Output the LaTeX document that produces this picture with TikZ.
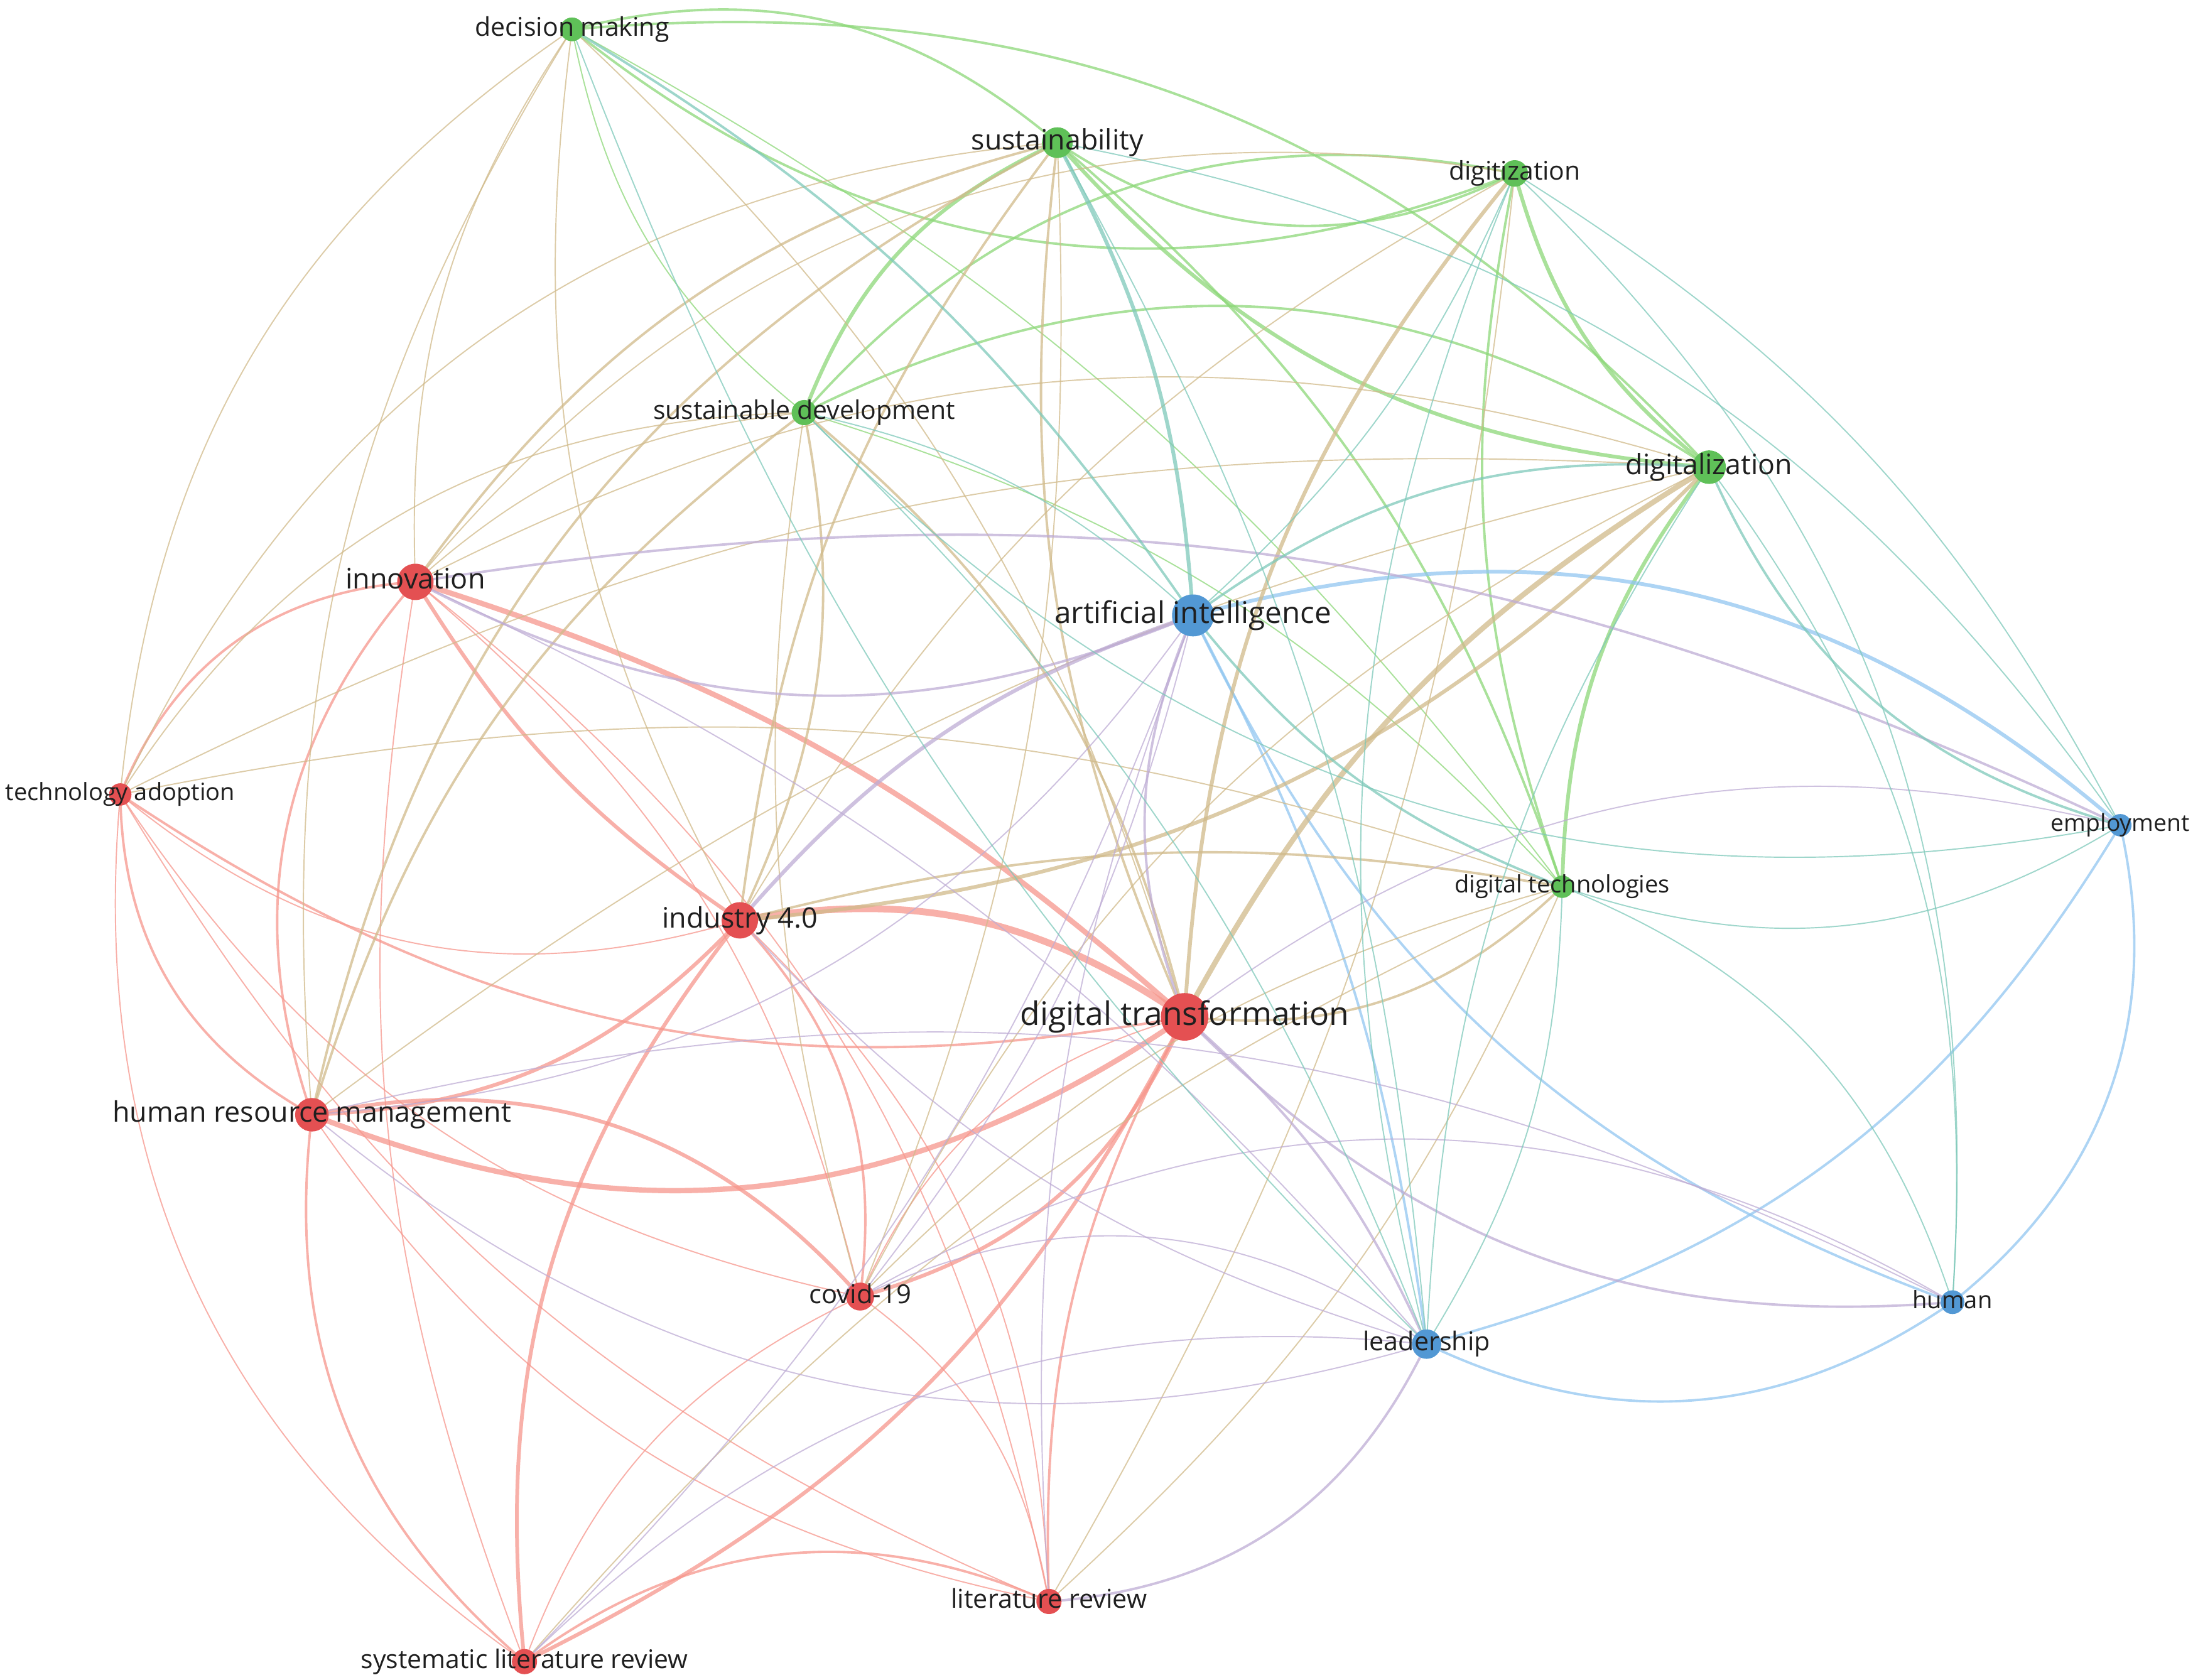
\documentclass[tikz,border=0pt]{standalone}
\usepackage{fontspec}
\setmainfont{Open Sans}
\usepackage{graphicx}
\pgfdeclarelayer{bg}
\pgfsetlayers{bg,main}
\newdimen\ux \ux=0.02227cm
\definecolor{nR}{RGB}{228,80,82}
\definecolor{nG}{RGB}{95,192,88}
\definecolor{nB}{RGB}{82,152,212}
\definecolor{cRR}{RGB}{246,150,140}
\definecolor{cGG}{RGB}{140,215,120}
\definecolor{cBB}{RGB}{145,198,240}
\definecolor{cRG}{RGB}{208,186,138}
\definecolor{cRB}{RGB}{190,172,212}
\definecolor{cGB}{RGB}{125,200,185}
\tikzset{
  dotR/.style={circle,fill=nR,draw=none,inner sep=0pt,minimum size=#1\ux},
  dotG/.style={circle,fill=nG,draw=none,inner sep=0pt,minimum size=#1\ux},
  dotB/.style={circle,fill=nB,draw=none,inner sep=0pt,minimum size=#1\ux},
  lab/.style={inner sep=0pt,text=black!88},
  eRR/.style={draw=cRR,draw opacity=0.75,line cap=round},
  eGG/.style={draw=cGG,draw opacity=0.75,line cap=round},
  eBB/.style={draw=cBB,draw opacity=0.75,line cap=round},
  eRG/.style={draw=cRG,draw opacity=0.75,line cap=round},
  eRB/.style={draw=cRB,draw opacity=0.75,line cap=round},
  eGB/.style={draw=cGB,draw opacity=0.75,line cap=round},
  w1/.style={line width=0.55pt},
  w2/.style={line width=1.1pt},
  w3/.style={line width=1.7pt},
  w4/.style={line width=2.4pt},
  w5/.style={line width=3.1pt}
}
\newcommand\lbl[3]{\node[lab] at (#1) {\resizebox{#2\ux}{!}{\vphantom{Agy}#3}};}
\begin{document}
\begin{tikzpicture}[x=0.02227cm,y=-0.02227cm]
\useasboundingbox (0,0) rectangle (1568,1201);
% nodes
\node[dotG=17] (dm) at (409,21) {};
\node[dotG=22] (su) at (756,102) {};
\node[dotG=19] (dz) at (1083,124) {};
\node[dotG=18] (sd) at (575,295) {};
\node[dotG=24] (dl) at (1222,334) {};
\node[dotR=26] (inn) at (297,416) {};
\node[dotB=30] (ai) at (853,440) {};
\node[dotR=16] (ta) at (86,568) {};
\node[dotB=16] (em) at (1516,590) {};
\node[dotG=16] (dtc) at (1117,634) {};
\node[dotR=26] (i4) at (529,658) {};
\node[dotR=34] (dt) at (847,727) {};
\node[dotR=24] (hrm) at (223,797) {};
\node[dotR=20] (cv) at (615,927) {};
\node[dotB=17] (hu) at (1396,931) {};
\node[dotB=21] (le) at (1020,961) {};
\node[dotR=18] (lr) at (750,1145) {};
\node[dotR=18] (slr) at (375,1188) {};
% labels
\lbl{dm}{139}{decision making}
\lbl{su}{123}{sustainability}
\lbl{dz}{94}{digitization}
\lbl{sd}{216}{sustainable development}
\lbl{dl}{119}{digitalization}
\lbl{inn}{100}{innovation}
\lbl{ai}{198}{artificial intelligence}
\lbl{ta}{164}{technology adoption}
\lbl{em}{99}{employment}
\lbl{dtc}{154}{digital technologies}
\lbl{i4}{111}{industry 4.0}
\lbl{dt}{235}{digital transformation}
\lbl{hrm}{285}{human resource management}
\lbl{cv}{73}{covid-19}
\lbl{hu}{57}{human}
\lbl{le}{91}{leadership}
\lbl{lr}{140}{literature review}
\lbl{slr}{234}{systematic literature review}
% edges
\begin{pgfonlayer}{bg}
% red-red
\draw[eRR,w5] (i4.center) to[bend left=22] (dt.center);
\draw[eRR,w4] (hrm.center) to[bend right=28] (dt.center);
\draw[eRR,w4] (inn.center) to[bend left=12] (dt.center);
\draw[eRR,w3] (cv.center) to[bend right=25] (dt.center);
\draw[eRR,w3] (slr.center) to[bend right=18] (dt.center);
\draw[eRR,w2] (lr.center) to[bend left=15] (dt.center);
\draw[eRR,w2] (ta.center) to[bend right=22] (dt.center);
\draw[eRR,w3] (inn.center) to[bend right=12] (i4.center);
\draw[eRR,w3] (hrm.center) to[bend right=22] (i4.center);
\draw[eRR,w2] (i4.center) to[bend left=25] (cv.center);
\draw[eRR,w1] (ta.center) to[bend right=28] (i4.center);
\draw[eRR,w3] (slr.center) to[bend left=22] (i4.center);
\draw[eRR,w1] (i4.center) to[bend left=22] (lr.center);
\draw[eRR,w2] (inn.center) to[bend right=30] (hrm.center);
\draw[eRR,w2] (ta.center) to[bend left=32] (inn.center);
\draw[eRR,w1] (inn.center) to[bend left=18] (cv.center);
\draw[eRR,w1] (inn.center) to[bend right=15] (slr.center);
\draw[eRR,w1] (inn.center) to[bend left=20] (lr.center);
\draw[eRR,w3] (hrm.center) to[bend left=30] (cv.center);
\draw[eRR,w2] (hrm.center) to[bend right=28] (slr.center);
\draw[eRR,w1] (hrm.center) to[bend right=22] (lr.center);
\draw[eRR,w2] (ta.center) to[bend right=30] (hrm.center);
\draw[eRR,w1] (cv.center) to[bend right=22] (slr.center);
\draw[eRR,w1] (cv.center) to[bend left=22] (lr.center);
\draw[eRR,w1] (ta.center) to[bend right=22] (cv.center);
\draw[eRR,w2] (slr.center) to[bend left=30] (lr.center);
\draw[eRR,w1] (ta.center) to[bend right=30] (slr.center);
\draw[eRR,w1] (ta.center) to[bend right=18] (lr.center);
\draw[eRR,w1] (cv.center) to[bend left=25] (dt.center);
% green-green
\draw[eGG,w2] (su.center) to[bend right=30] (dz.center);
\draw[eGG,w3] (su.center) to[bend right=22] (dl.center);
\draw[eGG,w3] (sd.center) to[bend left=22] (su.center);
\draw[eGG,w2] (dm.center) to[bend left=27] (su.center);
\draw[eGG,w2] (su.center) to[bend left=15] (dtc.center);
\draw[eGG,w3] (dz.center) to[bend right=18] (dl.center);
\draw[eGG,w2] (sd.center) to[bend left=30] (dz.center);
\draw[eGG,w2] (dz.center) to[bend right=15] (dtc.center);
\draw[eGG,w2] (dm.center) to[bend right=30] (dz.center);
\draw[eGG,w2] (sd.center) to[bend left=30] (dl.center);
\draw[eGG,w2] (dm.center) to[bend left=26] (dl.center);
\draw[eGG,w3] (dl.center) to[bend right=18] (dtc.center);
\draw[eGG,w1] (sd.center) to[bend left=15] (dtc.center);
\draw[eGG,w1] (dm.center) to[bend right=20] (sd.center);
\draw[eGG,w1] (dm.center) to[bend left=12] (dtc.center);
% blue-blue
\draw[eBB,w2] (ai.center) to[bend left=10] (le.center);
\draw[eBB,w2] (ai.center) to[bend right=22] (hu.center);
\draw[eBB,w3] (ai.center) to[bend left=28] (em.center);
\draw[eBB,w2] (le.center) to[bend right=30] (hu.center);
\draw[eBB,w2] (le.center) to[bend right=22] (em.center);
\draw[eBB,w2] (hu.center) to[bend right=32] (em.center);
% red-green
\draw[eRG,w4] (dt.center) to[bend left=15] (dl.center);
\draw[eRG,w3] (dt.center) to[bend left=18] (dz.center);
\draw[eRG,w2] (su.center) to[bend right=15] (dt.center);
\draw[eRG,w2] (dt.center) to[bend right=25] (dtc.center);
\draw[eRG,w2] (sd.center) to[bend left=18] (dt.center);
\draw[eRG,w1] (dm.center) to[bend left=15] (dt.center);
\draw[eRG,w2] (i4.center) to[bend left=15] (su.center);
\draw[eRG,w2] (i4.center) to[bend right=18] (sd.center);
\draw[eRG,w3] (i4.center) to[bend right=20] (dl.center);
\draw[eRG,w1] (i4.center) to[bend left=15] (dz.center);
\draw[eRG,w2] (i4.center) to[bend left=12] (dtc.center);
\draw[eRG,w1] (dm.center) to[bend right=18] (i4.center);
\draw[eRG,w2] (inn.center) to[bend left=20] (su.center);
\draw[eRG,w1] (inn.center) to[bend left=18] (sd.center);
\draw[eRG,w1] (inn.center) to[bend left=30] (dz.center);
\draw[eRG,w1] (dm.center) to[bend right=18] (inn.center);
\draw[eRG,w1] (inn.center) to[bend left=22] (dl.center);
\draw[eRG,w2] (hrm.center) to[bend left=25] (su.center);
\draw[eRG,w2] (hrm.center) to[bend left=18] (sd.center);
\draw[eRG,w1] (hrm.center) to[bend left=12] (dl.center);
\draw[eRG,w1] (hrm.center) to[bend left=18] (dm.center);
\draw[eRG,w1] (cv.center) to[bend left=18] (dl.center);
\draw[eRG,w1] (cv.center) to[bend left=12] (sd.center);
\draw[eRG,w1] (cv.center) to[bend right=12] (su.center);
\draw[eRG,w1] (cv.center) to[bend left=15] (dtc.center);
\draw[eRG,w1] (slr.center) to[bend left=12] (dtc.center);
\draw[eRG,w1] (lr.center) to[bend right=12] (dtc.center);
\draw[eRG,w1] (lr.center) to[bend right=12] (dz.center);
\draw[eRG,w1] (ta.center) to[bend left=30] (su.center);
\draw[eRG,w1] (ta.center) to[bend left=28] (sd.center);
\draw[eRG,w1] (ta.center) to[bend left=25] (dm.center);
\draw[eRG,w1] (ta.center) to[bend left=15] (dtc.center);
\draw[eRG,w1] (ta.center) to[bend left=15] (dl.center);
% red-blue
\draw[eRB,w2] (ai.center) to[bend right=22] (dt.center);
\draw[eRB,w2] (dt.center) to[bend left=12] (le.center);
\draw[eRB,w2] (dt.center) to[bend right=25] (hu.center);
\draw[eRB,w1] (dt.center) to[bend left=25] (em.center);
\draw[eRB,w3] (i4.center) to[bend left=15] (ai.center);
\draw[eRB,w1] (i4.center) to[bend right=15] (le.center);
\draw[eRB,w2] (inn.center) to[bend right=25] (ai.center);
\draw[eRB,w2] (inn.center) to[bend left=17] (em.center);
\draw[eRB,w1] (inn.center) to[bend left=12] (le.center);
\draw[eRB,w1] (hrm.center) to[bend right=25] (ai.center);
\draw[eRB,w1] (hrm.center) to[bend right=28] (le.center);
\draw[eRB,w1] (hrm.center) to[bend left=20] (hu.center);
\draw[eRB,w1] (cv.center) to[bend left=30] (hu.center);
\draw[eRB,w1] (cv.center) to[bend left=30] (le.center);
\draw[eRB,w1] (cv.center) to[bend right=12] (ai.center);
\draw[eRB,w1] (slr.center) to[bend left=25] (le.center);
\draw[eRB,w1] (slr.center) to[bend right=12] (ai.center);
\draw[eRB,w2] (lr.center) to[bend right=30] (le.center);
\draw[eRB,w1] (lr.center) to[bend left=12] (ai.center);
% green-blue
\draw[eGB,w3] (su.center) to[bend left=12] (ai.center);
\draw[eGB,w1] (su.center) to[bend left=12] (le.center);
\draw[eGB,w1] (su.center) to[bend left=22] (em.center);
\draw[eGB,w1] (dz.center) to[bend left=12] (ai.center);
\draw[eGB,w1] (dz.center) to[bend left=15] (em.center);
\draw[eGB,w1] (dz.center) to[bend right=18] (le.center);
\draw[eGB,w1] (dz.center) to[bend left=25] (hu.center);
\draw[eGB,w2] (ai.center) to[bend left=20] (dl.center);
\draw[eGB,w2] (dl.center) to[bend right=25] (em.center);
\draw[eGB,w1] (dl.center) to[bend right=15] (le.center);
\draw[eGB,w1] (dl.center) to[bend left=20] (hu.center);
\draw[eGB,w1] (sd.center) to[bend left=15] (ai.center);
\draw[eGB,w1] (sd.center) to[bend left=12] (le.center);
\draw[eGB,w1] (sd.center) to[bend right=28] (em.center);
\draw[eGB,w2] (dm.center) to[bend left=12] (ai.center);
\draw[eGB,w1] (dm.center) to[bend right=12] (le.center);
\draw[eGB,w2] (ai.center) to[bend right=15] (dtc.center);
\draw[eGB,w1] (dtc.center) to[bend right=25] (em.center);
\draw[eGB,w1] (dtc.center) to[bend left=15] (le.center);
\draw[eGB,w1] (dtc.center) to[bend left=25] (hu.center);
\end{pgfonlayer}
\end{tikzpicture}
\end{document}
